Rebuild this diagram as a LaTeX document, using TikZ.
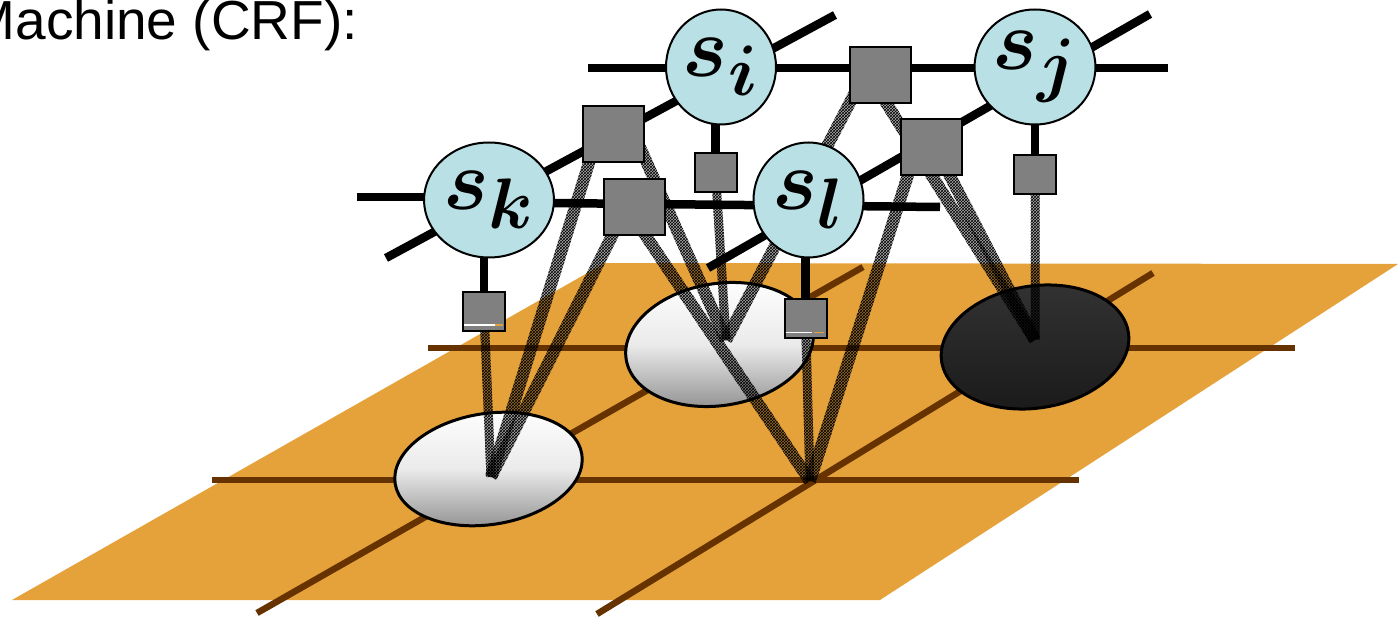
\documentclass[tikz,border=0pt]{standalone}
\usepackage{graphicx}
\usepackage{fontspec}
\newfontfamily\crffont{Liberation Sans}
\usetikzlibrary{calc,shapes.geometric,patterns}

\definecolor{planeorange}{HTML}{E6A23A}
\definecolor{gridbrown}{HTML}{663300}
\definecolor{varblue}{HTML}{B9E0E4}
\definecolor{factorgray}{HTML}{808080}

\pgfdeclarelayer{bg}
\pgfdeclarelayer{hatch}
\pgfdeclarelayer{edges}
\pgfsetlayers{bg,hatch,edges,main}

% a wide cross-hatched band from #2 to #3, half width #1
\newcommand\hatchband[3]{%
  \path[hatchstyle] ($(#2)!#1!90:(#3)$) -- ($(#2)!#1!-90:(#3)$)
     -- ($(#3)!#1!90:(#2)$) -- ($(#3)!#1!-90:(#2)$) -- cycle;}
% large bold variable label
\newcommand\varlabel[1]{\scalebox{3.45}{$#1$}}

\begin{document}
\begin{tikzpicture}[x=1pt,y=-1pt,
  edge/.style={draw=black,line width=8.5pt},
  gridline/.style={draw=gridbrown,line width=6.5pt},
  var/.style={ellipse,draw=black,line width=2pt,fill=varblue,
    minimum width=110pt,minimum height=115pt,inner sep=0pt,
    font=\Huge\boldmath},
  factor/.style={rectangle,draw=black,line width=2pt,fill=factorgray,
    minimum width=61pt,minimum height=56pt,inner sep=0pt},
  unary/.style={factor,minimum width=42pt,minimum height=39pt},
  pixel/.style={ellipse,draw=black,line width=3pt,minimum width=189pt,
    minimum height=122pt,inner sep=0pt,rotate=9},
  lightpix/.style={pixel,top color=white,bottom color=black!45,middle color=black!8},
  darkpix/.style={pixel,top color=black!80,bottom color=black!90},
  hatchstyle/.style={fill=black,fill opacity=0.33,
    postaction={pattern=crosshatch,pattern color=black,fill opacity=0.8}},
]
\useasboundingbox (0,0) rectangle (1400,617);
\clip (0,0) rectangle (1400,617);

% caption fragment
\node[anchor=base west,inner sep=0pt,font=\crffont\fontsize{55}{55}\selectfont]
  (title) at (-30.5,39.5) {Machine (CRF):};

% variable nodes
\node[var] (si) at (721,67)    {\varlabel{s_i}};
\node[var] (sj) at (1035,67)   {\varlabel{s_j}};
\node[var] (sk) at (489,200)   {\varlabel{s_k}};
\node[var] (sl) at (808.5,200) {\varlabel{s_l}};

% pairwise factors
\node[factor] (Fik) at (613.5,134) {};
\node[factor] (Fkl) at (634.5,207) {};
\node[factor] (Fij) at (880,75.5)  {};
\node[factor] (Fjl) at (931,147)   {};

% unary factors
\node[unary] (Uk) at (484,311.5)  {};
\node[unary] (Ui) at (715.5,172.5) {};
\node[unary] (Ul) at (805.5,319)  {};
\node[unary] (Uj) at (1035,174.5) {};

% thin streaks on two unary factors
\draw[white,line width=1.2pt] ($(Uk.south west)+(2,-7)$) -- ++(31,0);
\draw[planeorange,line width=1.2pt] ($(Uk.south west)+(33,-7)$) -- ++(8,0);
\draw[white,line width=1.2pt] ($(Ul.south west)+(2,-7)$) -- ++(26,0);
\draw[planeorange,line width=1.2pt] ($(Ul.south west)+(30,-7)$) -- ++(10,0);

% ground plane, grid and pixel regions
\begin{pgfonlayer}{bg}
  \fill[planeorange] (12,600) -- (605,263) -- (1398,264) -- (880,600) -- cycle;
  \draw[gridline] (428,348) -- (1295,348);
  \draw[gridline] (212,480) -- (1079,480);
  \draw[gridline] (257,613) -- (863,267);
  \draw[gridline] (597,614) -- (1153,273);
  \node[lightpix,minimum height=111pt] (Ek) at (488.5,469) {};
  \node[lightpix] (Ei) at (719.5,344.5) {};
  \node[darkpix]  (Ej) at (1035,347) {};
\end{pgfonlayer}

% links from factors down to the image sites
\coordinate (pk) at (491,477);
\coordinate (pi) at (726,340);
\coordinate (pj) at (1035,340);
\coordinate (pl) at (810,481);
\coordinate (hik1) at ($(Fik.center)+(-15.5,0)$);
\coordinate (hik2) at ($(Fik.center)+(20.5,0)$);
\coordinate (hkl)  at ($(Fkl.center)+(-8,0)$);
\coordinate (hij1) at ($(Fij.center)+(-16,0)$);
\coordinate (hij2) at ($(Fij.center)+(-11,0)$);
\coordinate (hjl1) at ($(Fjl.center)+(4,0)$);
\coordinate (hjl2) at ($(Fjl.center)+(-14,0)$);
\begin{pgfonlayer}{hatch}
  \hatchband{4.5pt}{Uk.center}{pk}
  \hatchband{6pt}{hik1}{pk}
  \hatchband{6pt}{hkl}{pk}
  \hatchband{6pt}{hik2}{pi}
  \hatchband{4.5pt}{Ui.center}{pi}
  \hatchband{6pt}{hij1}{pi}
  \hatchband{6pt}{hij2}{pj}
  \hatchband{6pt}{hjl1}{pj}
  \hatchband{4.5pt}{Uj.center}{pj}
  \hatchband{6pt}{hjl2}{pl}
  \hatchband{6pt}{hkl}{pl}
  \hatchband{4.5pt}{Ul.center}{pl}
\end{pgfonlayer}

% lattice edges between variables and factors
\coordinate (lk)  at (357,197);
\coordinate (da1) at (386,258);
\coordinate (da2) at (835,15);
\coordinate (db1) at (708,268);
\coordinate (db2) at (1150,14);
\coordinate (ht1) at (588,68);
\coordinate (ht2) at (1168,68);
\coordinate (hm1) at (548,203);
\coordinate (hm2) at (940,207);
\begin{pgfonlayer}{edges}
  \draw[edge] (lk) -- (lk -| sk.center);
  \draw[edge] (da1) -- (da2);
  \draw[edge] (db1) -- (db2);
  \draw[edge] (ht1) -- (ht2);
  \draw[edge] (hm1) -- (hm2);
  \draw[edge] (Uk.north) -- (Uk.north |- sk.center);
  \draw[edge] (Ui.north) -- (Ui.north |- si.center);
  \draw[edge] (Ul.north) -- (Ul.north |- sl.center);
  \draw[edge] (Uj.north) -- (Uj.north |- sj.center);
\end{pgfonlayer}
\end{tikzpicture}
\end{document}
